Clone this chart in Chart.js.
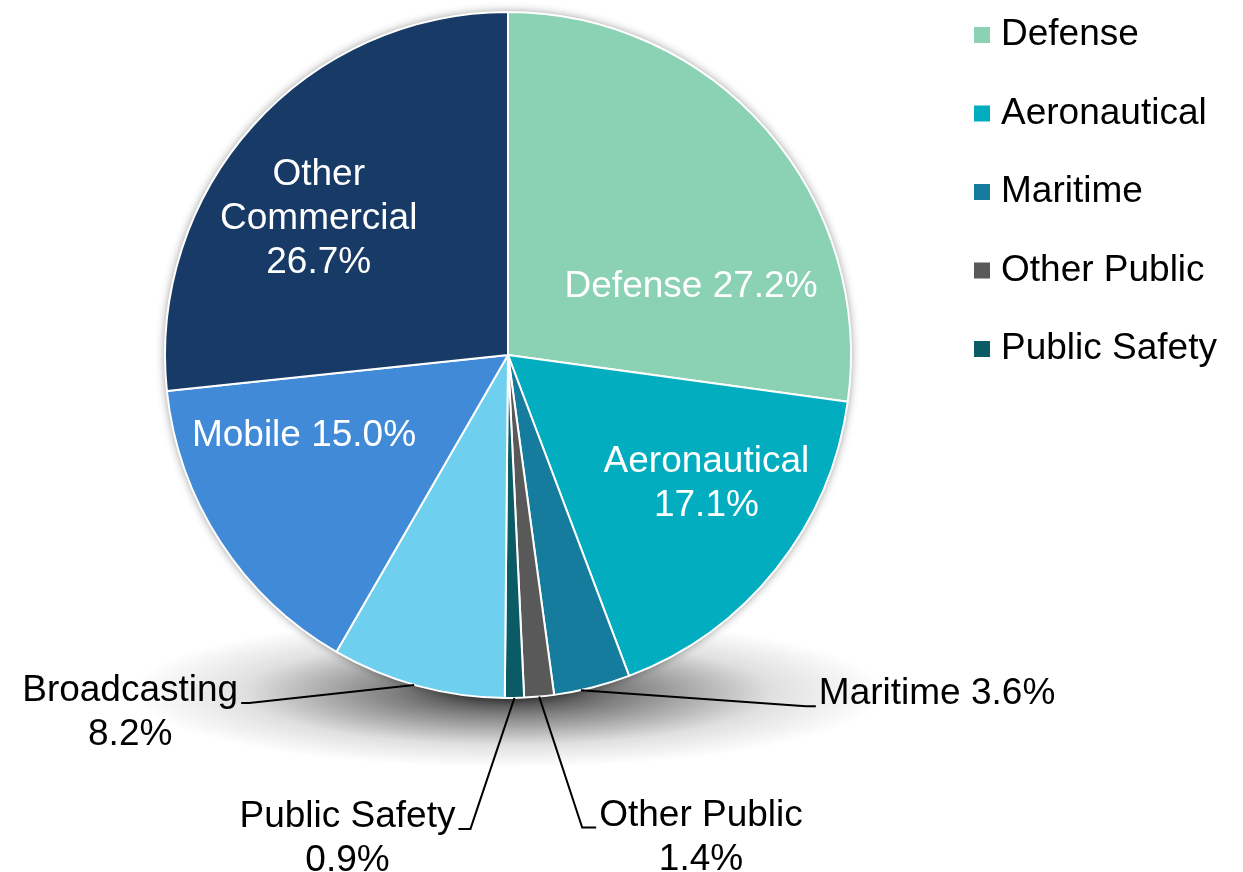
<!DOCTYPE html>
<html>
<head>
<meta charset="utf-8">
<title>Spectrum use by sector</title>
<script src="https://cdn.jsdelivr.net/npm/chart.js@4.4.1/dist/chart.umd.min.js"></script>
<style>
  html, body { margin: 0; padding: 0; background: #fff; }
  #wrap { width: 1243px; height: 872px; }
</style>
</head>
<body>
<div id="wrap"><canvas id="pieChart" width="1243" height="872"></canvas></div>
<script>
// Share by sector (percent), clockwise from 12 o'clock
const categories = ['Defense', 'Aeronautical', 'Maritime', 'Other Public', 'Public Safety', 'Broadcasting', 'Mobile', 'Other Commercial'];
const shares = [27.2, 17.1, 3.6, 1.4, 0.9, 8.2, 15.0, 26.7];
const sliceColors = ['#8bd1b3', '#02adbf', '#157c9d', '#595959', '#0b5b66', '#6ecfef', '#418ad8', '#183a66'];
// only the first five sectors appear in the legend
const legendCount = 5;

const FONT = '37px "Liberation Sans", Arial, sans-serif';
const LINE_GAP = 44;

// label placement (style only)
// inside: at = fraction across the slice, r = fraction of the radius
// outside: at = point on the rim, dx/dy = elbow offset from it, tail = short horizontal stub
const labelStyle = [
    { inside: true, lines: 'one', at: 0.71, r: 0.57 },
    { inside: true, lines: 'two', at: 0.41, r: 0.69 },
    { inside: false, lines: 'one', at: 0.65, dx: 225, dy: 16, tail: 10 },
    { inside: false, lines: 'two', at: 0.5, dx: 43, dy: 131, tail: 14 },
    { inside: false, lines: 'two', at: 0.5, dx: -44, dy: 131, tail: -12 },
    { inside: false, lines: 'two', at: 0.52, dx: -165, dy: 18, tail: -8 },
    { inside: true, lines: 'one', at: 0.71, r: 0.64 },
    { inside: true, lines: 'words', at: 0.435, r: 0.68 }
];

function labelLines(i, mode) {
    const name = categories[i];
    const pct = shares[i].toFixed(1) + '%';
    if (mode === 'one') return [name + ' ' + pct];
    if (mode === 'two') return [name, pct];
    return name.split(' ').concat([pct]);
}

// soft floor shadow under the pie plus a faint halo
const pieShadow = {
    id: 'pieShadow',
    beforeDatasetsDraw(chart) {
        const arc = chart.getDatasetMeta(0).data[0];
        if (!arc) return;
        const p = arc.getProps(['x', 'y', 'outerRadius'], true);
        const r = p.outerRadius;
        const ctx = chart.ctx;
        ctx.save();
        ctx.translate(p.x, p.y + r - 6);
        ctx.scale(1, 0.2);
        const g = ctx.createRadialGradient(0, 0, 0, 0, 0, r * 1.1);
        g.addColorStop(0, 'rgba(0,0,0,0.85)');
        g.addColorStop(0.3, 'rgba(0,0,0,0.5)');
        g.addColorStop(0.7, 'rgba(0,0,0,0.12)');
        g.addColorStop(1, 'rgba(0,0,0,0)');
        ctx.fillStyle = g;
        ctx.beginPath();
        ctx.arc(0, 0, r * 1.1, 0, Math.PI * 2);
        ctx.fill();
        ctx.restore();

        ctx.save();
        ctx.shadowColor = 'rgba(0,0,0,0.45)';
        ctx.shadowBlur = 10;
        ctx.fillStyle = '#fff';
        ctx.beginPath();
        ctx.arc(p.x, p.y, r, 0, Math.PI * 2);
        ctx.fill();
        ctx.restore();
    }
};

// slice labels, white inside and black with leader lines outside
const sliceLabels = {
    id: 'sliceLabels',
    afterDatasetsDraw(chart) {
        const ctx = chart.ctx;
        ctx.save();
        ctx.font = FONT;
        ctx.textBaseline = 'middle';
        ctx.textAlign = 'center';
        chart.getDatasetMeta(0).data.forEach((arc, i) => {
            const s = labelStyle[i];
            const p = arc.getProps(['x', 'y', 'startAngle', 'endAngle', 'outerRadius'], true);
            const a = p.startAngle + (p.endAngle - p.startAngle) * s.at;
            const lines = labelLines(i, s.lines);
            if (s.inside) {
                const cx = p.x + Math.cos(a) * p.outerRadius * s.r;
                const cy = p.y + Math.sin(a) * p.outerRadius * s.r;
                const top = cy - (lines.length - 1) * LINE_GAP / 2;
                ctx.fillStyle = '#fff';
                lines.forEach((t, k) => ctx.fillText(t, cx, top + k * LINE_GAP));
            } else {
                const ex = p.x + Math.cos(a) * p.outerRadius;
                const ey = p.y + Math.sin(a) * p.outerRadius;
                const bx = ex + s.dx;
                const by = ey + s.dy;
                const tx = bx + s.tail;
                ctx.strokeStyle = '#000';
                ctx.lineWidth = 2;
                ctx.beginPath();
                ctx.moveTo(ex, ey);
                ctx.lineTo(bx, by);
                ctx.lineTo(tx, by);
                ctx.stroke();
                const w = ctx.measureText(lines[0]).width;
                const cx = s.tail > 0 ? tx + 3 + w / 2 : tx - 3 - w / 2;
                ctx.fillStyle = '#000';
                lines.forEach((t, k) => ctx.fillText(t, cx, by - 12 + k * LINE_GAP));
            }
        });
        ctx.restore();
    }
};

// legend on the right, first five sectors
const sideLegend = {
    id: 'sideLegend',
    afterDraw(chart) {
        const ctx = chart.ctx;
        const colors = chart.data.datasets[0].backgroundColor;
        ctx.save();
        ctx.font = FONT;
        ctx.textBaseline = 'middle';
        ctx.textAlign = 'left';
        for (let i = 0; i < legendCount; i++) {
            const y = 35 + i * 78.5;
            ctx.fillStyle = colors[i];
            ctx.fillRect(974, y - 8, 16, 16);
            ctx.fillStyle = '#000';
            ctx.fillText(chart.data.labels[i], 1001, y);
        }
        ctx.restore();
    }
};

const ctx = document.getElementById('pieChart').getContext('2d');
const pieChart = new Chart(ctx, {
    type: 'pie',
    data: {
        labels: categories,
        datasets: [{
            data: shares,
            backgroundColor: sliceColors,
            borderColor: '#ffffff',
            borderWidth: 2,
            hoverOffset: 0
        }]
    },
    options: {
        responsive: false,
        animation: false,
        layout: {
            padding: { left: 164, right: 391, top: 11, bottom: 173 }
        },
        plugins: {
            legend: { display: false },
            tooltip: { enabled: false }
        }
    },
    plugins: [pieShadow, sliceLabels, sideLegend]
});
</script>
</body>
</html>
